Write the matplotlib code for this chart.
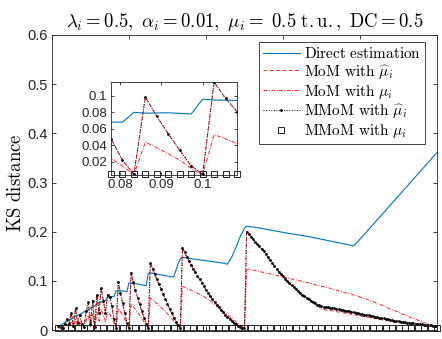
import numpy as np
import matplotlib
matplotlib.use('Agg')
import matplotlib.pyplot as plt

plt.rcParams['font.family'] = ['Liberation Sans', 'DejaVu Sans']
plt.rcParams['mathtext.fontset'] = 'cm'

# sampling grid index k, x = k * 0.5 / 180  (k = 3 .. 180)
k_grid = np.arange(3, 181)

# MMoM with mu_hat (black dotted, dots)
mmom_hat = [
    0.008, 0.006, 0.005, 0.012, 0.022, 0.012, 0.035, 0.008, 0.044, 0.015,
    0.030, 0.012, 0.006, 0.038, 0.056, 0.012, 0.060, 0.006, 0.072, 0.035,
    0.085, 0.060, 0.035, 0.072, 0.068, 0.048, 0.022, 0.005, 0.0985, 0.075,
    0.054, 0.034, 0.015, 0.005, 0.1165, 0.097, 0.081, 0.066, 0.052, 0.038,
    0.025, 0.013, 0.005, 0.137, 0.125, 0.114, 0.103, 0.093, 0.083, 0.073,
    0.063, 0.053, 0.043, 0.034, 0.025, 0.017, 0.010, 0.004, 0.167, 0.158,
    0.149, 0.141, 0.133, 0.125, 0.117, 0.110, 0.103, 0.096, 0.089, 0.082,
    0.075, 0.069, 0.063, 0.057, 0.051, 0.046, 0.041, 0.036, 0.031, 0.027,
    0.023, 0.019, 0.015, 0.012, 0.009, 0.007, 0.005, 0.004, 0.200, 0.195,
    0.190, 0.185, 0.180, 0.175, 0.170, 0.165, 0.160, 0.154, 0.148, 0.142,
    0.136, 0.130, 0.124, 0.119, 0.114, 0.109, 0.104, 0.099, 0.095, 0.091,
    0.087, 0.083, 0.079, 0.076, 0.072, 0.069, 0.066, 0.063, 0.060, 0.057,
    0.054, 0.051, 0.050, 0.048, 0.047, 0.046, 0.046, 0.045, 0.044, 0.044,
    0.043, 0.042, 0.041, 0.041, 0.039, 0.038, 0.038, 0.037, 0.036, 0.035,
    0.034, 0.033, 0.032, 0.031, 0.031, 0.030, 0.029, 0.028, 0.027, 0.026,
    0.025, 0.024, 0.024, 0.023, 0.022, 0.021, 0.020, 0.019, 0.018, 0.018,
    0.017, 0.016, 0.016, 0.015, 0.015, 0.014, 0.014, 0.013, 0.013, 0.012,
    0.012, 0.011, 0.011, 0.010, 0.010, 0.009, 0.009, 0.008,
]

# MoM with mu_hat (red dashed)
mom_hat = [
    0.008, 0.006, 0.005, 0.012, 0.022, 0.012, 0.035, 0.008, 0.044, 0.015,
    0.030, 0.012, 0.006, 0.038, 0.056, 0.012, 0.060, 0.006, 0.072, 0.035,
    0.085, 0.060, 0.035, 0.072, 0.068, 0.048, 0.022, 0.005, 0.0985, 0.075,
    0.054, 0.034, 0.015, 0.005, 0.1165, 0.097, 0.081, 0.066, 0.052, 0.038,
    0.025, 0.013, 0.005, 0.137, 0.125, 0.114, 0.103, 0.093, 0.083, 0.073,
    0.063, 0.053, 0.043, 0.034, 0.025, 0.017, 0.010, 0.004, 0.167, 0.158,
    0.149, 0.141, 0.133, 0.125, 0.117, 0.110, 0.103, 0.096, 0.089, 0.082,
    0.075, 0.069, 0.063, 0.057, 0.051, 0.046, 0.041, 0.036, 0.031, 0.027,
    0.023, 0.019, 0.015, 0.012, 0.009, 0.007, 0.005, 0.004, 0.200, 0.195,
    0.190, 0.185, 0.180, 0.175, 0.170, 0.165, 0.160, 0.154, 0.148, 0.142,
    0.136, 0.130, 0.124, 0.119, 0.114, 0.109, 0.104, 0.099, 0.095, 0.091,
    0.087, 0.083, 0.079, 0.076, 0.072, 0.069, 0.066, 0.063, 0.060, 0.057,
    0.053, 0.049, 0.046, 0.044, 0.042, 0.041, 0.040, 0.040, 0.039, 0.038,
    0.037, 0.037, 0.036, 0.035, 0.034, 0.034, 0.033, 0.032, 0.031, 0.030,
    0.030, 0.029, 0.028, 0.027, 0.026, 0.026, 0.025, 0.024, 0.023, 0.023,
    0.022, 0.021, 0.020, 0.020, 0.019, 0.018, 0.017, 0.017, 0.016, 0.015,
    0.015, 0.014, 0.013, 0.013, 0.012, 0.012, 0.011, 0.011, 0.010, 0.010,
    0.009, 0.009, 0.008, 0.008, 0.007, 0.007, 0.007, 0.006,
]

# MoM with mu (red dash-dot)
mom_mu = [
    0.004, 0.004, 0.004, 0.006, 0.012, 0.006, 0.018, 0.004, 0.022, 0.008,
    0.016, 0.006, 0.004, 0.020, 0.030, 0.005, 0.032, 0.004, 0.036, 0.018,
    0.042, 0.030, 0.017, 0.036, 0.033, 0.024, 0.015, 0.004, 0.044, 0.037,
    0.030, 0.022, 0.012, 0.004, 0.053, 0.048, 0.042, 0.036, 0.030, 0.023,
    0.016, 0.010, 0.004, 0.065, 0.062, 0.058, 0.054, 0.050, 0.046, 0.042,
    0.038, 0.033, 0.028, 0.023, 0.018, 0.013, 0.008, 0.004, 0.088, 0.087,
    0.085, 0.083, 0.081, 0.079, 0.077, 0.075, 0.073, 0.070, 0.068, 0.065,
    0.062, 0.059, 0.056, 0.052, 0.049, 0.045, 0.042, 0.038, 0.035, 0.031,
    0.028, 0.024, 0.021, 0.017, 0.014, 0.010, 0.007, 0.004, 0.122, 0.124,
    0.123, 0.122, 0.121, 0.120, 0.119, 0.118, 0.117, 0.116, 0.115, 0.114,
    0.113, 0.112, 0.111, 0.110, 0.109, 0.108, 0.107, 0.106, 0.105, 0.104,
    0.103, 0.102, 0.101, 0.100, 0.099, 0.098, 0.097, 0.096, 0.095, 0.094,
    0.092, 0.091, 0.090, 0.089, 0.088, 0.087, 0.086, 0.085, 0.083, 0.082,
    0.081, 0.080, 0.079, 0.077, 0.076, 0.075, 0.074, 0.073, 0.071, 0.070,
    0.069, 0.067, 0.066, 0.064, 0.063, 0.061, 0.059, 0.058, 0.056, 0.054,
    0.052, 0.051, 0.049, 0.047, 0.045, 0.043, 0.041, 0.040, 0.038, 0.036,
    0.034, 0.032, 0.031, 0.029, 0.027, 0.025, 0.024, 0.022, 0.020, 0.019,
    0.017, 0.015, 0.014, 0.012, 0.011, 0.009, 0.008, 0.007,
]

# MMoM with mu (squares)
mmom_mu = [
    0.005, 0.005, 0.004, 0.005, 0.005, 0.004, 0.005, 0.005, 0.005, 0.004,
    0.005, 0.005, 0.004, 0.005, 0.005, 0.005, 0.004, 0.005, 0.005, 0.005,
    0.004, 0.005, 0.005, 0.005, 0.005, 0.005, 0.005, 0.005, 0.005, 0.005,
    0.005, 0.005, 0.005, 0.005, 0.005, 0.005, 0.005, 0.005, 0.005, 0.005,
    0.005, 0.005, 0.005, 0.005, 0.005, 0.005, 0.005, 0.005, 0.005, 0.005,
    0.005, 0.005, 0.005, 0.005, 0.005, 0.005, 0.005, 0.005, 0.005, 0.005,
    0.005, 0.005, 0.005, 0.005, 0.005, 0.005, 0.005, 0.005, 0.005, 0.005,
    0.005, 0.005, 0.005, 0.005, 0.005, 0.005, 0.005, 0.005, 0.005, 0.005,
    0.005, 0.005, 0.005, 0.005, 0.005, 0.005, 0.005, 0.005, 0.005, 0.005,
    0.005, 0.005, 0.005, 0.005, 0.005, 0.005, 0.005, 0.005, 0.005, 0.005,
    0.005, 0.005, 0.005, 0.005, 0.005, 0.005, 0.005, 0.005, 0.005, 0.005,
    0.005, 0.005, 0.005, 0.005, 0.005, 0.005, 0.005, 0.005, 0.005, 0.005,
    0.005, 0.005, 0.005, 0.005, 0.005, 0.005, 0.005, 0.005, 0.005, 0.005,
    0.005, 0.005, 0.005, 0.005, 0.005, 0.005, 0.005, 0.005, 0.005, 0.005,
    0.005, 0.005, 0.005, 0.005, 0.005, 0.005, 0.005, 0.005, 0.005, 0.005,
    0.005, 0.005, 0.005, 0.005, 0.005, 0.005, 0.005, 0.005, 0.005, 0.005,
    0.005, 0.005, 0.005, 0.005, 0.005, 0.005, 0.005, 0.005, 0.005, 0.005,
    0.005, 0.005, 0.005, 0.005, 0.005, 0.005, 0.005, 0.005,
]

# Direct estimation (blue), given at its break points on the same grid
direct_k = [3, 5, 7, 9, 10, 12, 14, 15, 17, 18, 20, 21, 22, 23, 25, 26, 28, 29,
            30, 31, 33, 35, 36, 37, 39, 42, 44, 45, 46, 50, 56, 57, 59, 60, 61,
            65, 72, 80, 82, 84, 86, 88, 90, 91, 95, 100, 110, 120, 130, 138,
            141, 143, 150, 160, 170, 180]
direct = [0.008, 0.012, 0.018, 0.022, 0.027, 0.030, 0.034, 0.037, 0.041, 0.045,
          0.049, 0.053, 0.056, 0.057, 0.060, 0.066, 0.0683, 0.068,
          0.080, 0.079, 0.0795, 0.078, 0.096, 0.095, 0.0945, 0.092, 0.090,
          0.114, 0.116, 0.113, 0.108, 0.109, 0.135, 0.145, 0.148,
          0.145, 0.141, 0.136, 0.134, 0.148, 0.168, 0.190, 0.207, 0.211,
          0.209, 0.205, 0.197, 0.190, 0.181, 0.174,
          0.171, 0.180, 0.214, 0.263, 0.312, 0.361]

x = k_grid * 0.5 / 180
x_direct = np.array(direct_k) * 0.5 / 180

blue = '#0072BD'
red = '#F0282D'
dark = '#262626'

fig = plt.figure(figsize=(4.42, 3.39), dpi=100)
ax = fig.add_axes([0.1176, 0.0265, 0.8711, 0.8703])


def draw(a, every, keep):
    h1, = a.plot(x_direct, direct, '-', color=blue, lw=0.8)
    h2, = a.plot(x, mom_hat, '--', color=red, lw=0.7, dashes=(4, 2.5))
    h3, = a.plot(x, mom_mu, '-.', color=red, lw=0.7, dashes=(4, 1.5, 1, 1.5))
    h4, = a.plot(x, mmom_hat, ':', color='k', lw=0.7, marker='o', ms=2.0,
                 markeredgewidth=0)
    h5, = a.plot(x[keep], np.array(mmom_mu)[keep], 's', mfc='none',
                 mec='#222222', ms=4.5, mew=0.7, markevery=every,
                 clip_on=False)
    return [h1, h2, h3, h4, h5]


handles = draw(ax, 3, np.ones(len(x), dtype=bool))

ax.set_xlim(0, 0.5)
ax.set_ylim(0, 0.6)
ax.set_xticks(np.arange(0, 0.51, 0.1))
ax.set_xticklabels([])
ax.set_yticks(np.arange(0, 0.61, 0.1))
ax.set_yticklabels(['0', '0.1', '0.2', '0.3', '0.4', '0.5', '0.6'])
ax.tick_params(direction='in', top=True, right=True, length=3, width=0.6,
               labelsize=10.5, colors=dark, pad=3)
for s in ax.spines.values():
    s.set_linewidth(0.6)
    s.set_color(dark)

ax.set_title(r'$\lambda_i = 0.5,\ \alpha_i = 0.01,\ \mu_i =\ 0.5\ \mathrm{t.u.},\ \mathrm{DC} = 0.5$',
             fontsize=13.5, pad=6)
ax.set_ylabel(r'$\mathrm{KS\ distance}$', fontsize=13.5, labelpad=2)

labels = [r'$\mathrm{Direct\ estimation}$',
          r'$\mathrm{MoM\ with}\ \widehat{\mu}_i$',
          r'$\mathrm{MoM\ with}\ \mu_i$',
          r'$\mathrm{MMoM\ with}\ \widehat{\mu}_i$',
          r'$\mathrm{MMoM\ with}\ \mu_i$']
leg = ax.legend(handles, labels, loc='upper right',
                bbox_to_anchor=(0.969, 0.976), borderaxespad=0,
                fontsize=11, handlelength=2.4, handletextpad=0.3,
                labelspacing=0.12, borderpad=0.25, fancybox=False,
                framealpha=1, edgecolor=dark, numpoints=1)
leg.get_frame().set_linewidth(0.6)

# inset zoom
sel = (x >= 0.0775) & (x <= 0.1085)
axi = fig.add_axes([0.2511, 0.4838, 0.2851, 0.2735])
draw(axi, 1, sel)
lo = min(min(np.array(mmom_mu)[sel]), min(np.array(mom_mu)[sel]))
hi = max(np.array(mmom_hat)[sel])
axi.set_xlim(x[sel][0], x[sel][-1])
axi.set_ylim(lo, hi)
axi.set_xticks([0.08, 0.09, 0.1])
axi.set_xticklabels(['0.08', '0.09', '0.1'])
axi.set_yticks([0.02, 0.04, 0.06, 0.08, 0.1])
axi.set_yticklabels(['0.02', '0.04', '0.06', '0.08', '0.1'])
axi.tick_params(direction='in', top=True, right=True, length=2.5, width=0.6,
                labelsize=9.5, colors=dark, pad=3)
for s in axi.spines.values():
    s.set_linewidth(0.6)
    s.set_color(dark)

plt.savefig('out.png', dpi=100)
plt.close()
